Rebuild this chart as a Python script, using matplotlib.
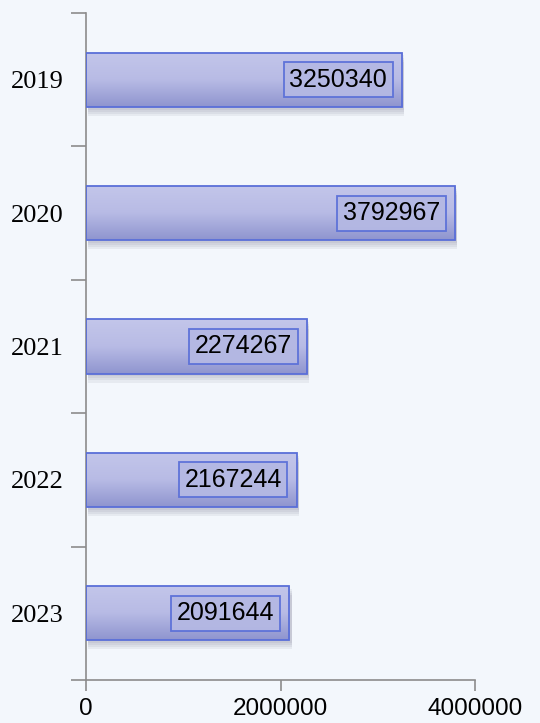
import numpy as np
import matplotlib
matplotlib.use("Agg")
import matplotlib.pyplot as plt
import matplotlib.patheffects as pe

# data
years = ["2019", "2020", "2021", "2022", "2023"]
values = [3250340, 3792967, 2274267, 2167244, 2091644]
x_ticks = [0, 2000000, 4000000]

fig = plt.figure(figsize=(5.4, 7.23), dpi=100)
fig.patch.set_facecolor("#f3f7fc")
ax = fig.add_axes([0.159, 0.0595, 0.721, 0.9225])
ax.set_facecolor("none")

pos = np.arange(len(years))
bar_h = 0.405

# soft shadow: a few stacked translucent offsets
shadow = [pe.SimplePatchShadow(offset=(1.5, -d), shadow_rgbFace="#7a7a90", alpha=0.10)
          for d in (2, 3.5, 5, 6.5)]
bars = ax.barh(pos, values, height=bar_h, color="#aeb2e0", edgecolor="none", zorder=2,
               path_effects=shadow + [pe.Normal()])

# vertical gradient inside each bar
grad = np.linspace(0, 1, 64).reshape(-1, 1)
cmap = matplotlib.colors.LinearSegmentedColormap.from_list("bar", ["#c3c6ea", "#b8bbe5", "#8f95cf"])
for b in bars:
    x0, y0 = b.get_x(), b.get_y()
    w, h = b.get_width(), b.get_height()
    im = ax.imshow(grad, cmap=cmap, aspect="auto", extent=(x0, x0 + w, y0 + h, y0),
                   zorder=2.5, interpolation="bicubic")
    im.set_clip_path(b)

# outlines on top
ax.barh(pos, values, height=bar_h, fill=False, edgecolor="#5a6fd8", linewidth=1.3, zorder=3)

# value labels
for p, v in zip(pos, values):
    ax.annotate(str(v), xy=(v, p), xytext=(-15, 0), textcoords="offset pixels",
                ha="right", va="center", fontsize=18, family="Liberation Sans", color="black",
                zorder=5,
                bbox=dict(boxstyle="square,pad=0.22", facecolor="#b4b8e3", edgecolor="#5a6fd8",
                          linewidth=1.3, alpha=0.95))

ax.set_xlim(0, 4000000)
ax.set_ylim(len(years) - 0.5, -0.5)

# y ticks at category boundaries, labels at centers
ax.set_yticks(np.arange(-0.5, len(years), 1.0))
ax.set_yticklabels([])
ax.set_yticks(pos, minor=True)
ax.set_yticklabels(years, minor=True, family="Liberation Serif", fontsize=19)
ax.tick_params(axis="y", which="major", direction="out", length=11, width=1.2, color="#8c8c8c")
ax.tick_params(axis="y", which="minor", length=0, pad=16)

ax.set_xticks(x_ticks)
ax.set_xticklabels([str(t) for t in x_ticks], family="Liberation Sans", fontsize=17.5)
ax.tick_params(axis="x", direction="out", length=8, width=1.2, color="#8c8c8c", pad=5)

for s in ["top", "right"]:
    ax.spines[s].set_visible(False)
for s in ["left", "bottom"]:
    ax.spines[s].set_color("#8c8c8c")
    ax.spines[s].set_linewidth(1.2)

fig.savefig("out.png", dpi=100, facecolor=fig.get_facecolor())
